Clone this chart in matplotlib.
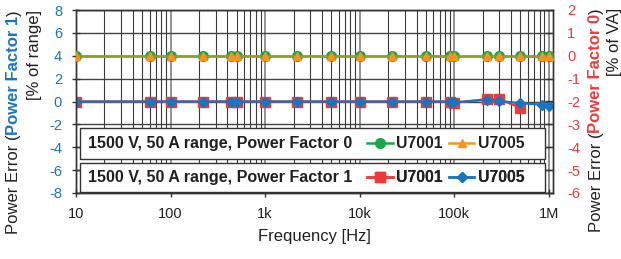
import matplotlib
matplotlib.use('Agg')
import matplotlib.pyplot as plt
from matplotlib.lines import Line2D
from matplotlib.patches import Rectangle
from matplotlib.ticker import FixedLocator, LogLocator, NullFormatter

plt.rcParams['font.family'] = ['Liberation Sans', 'DejaVu Sans']
plt.rcParams['axes.unicode_minus'] = False

# data
freq = [10, 60, 100, 220, 440, 500, 1e3, 2.2e3, 5e3, 10e3, 22e3, 50e3, 90e3,
        100e3, 220e3, 300e3, 500e3, 850e3, 1e6]
pf0_u7001 = [0.0] * 19          # right axis, % of VA
pf0_u7005 = [0.0] * 19
pf1_u7001 = [0, 0, 0, 0, 0, 0, 0, 0, 0, 0, 0, 0, 0, -0.1, 0.2, 0.2, -0.55]   # left axis
pf1_u7005 = [0, 0, 0, 0, 0, 0, 0, 0, 0, 0, 0, 0, 0, -0.08, 0.15, 0.05, -0.15, -0.28, -0.38]

x_ticks = [10, 100, 1e3, 1e4, 1e5, 1e6]
x_labels = ['10', '100', '1k', '10k', '100k', '1M']
left_ticks = [8, 6, 4, 2, 0, -2, -4, -6, -8]
right_ticks = [2, 1, 0, -1, -2, -3, -4, -5, -6]

GREEN = '#1aa64b'
ORANGE = '#f7941d'
RED = '#ee3a3a'
BLUE = '#1b75bc'
TXT = '#231f20'

fig = plt.figure(figsize=(6.21, 2.59), dpi=100)
fig.patch.set_facecolor('white')
ax = fig.add_axes([76 / 621, 66 / 259, 477 / 621, 183 / 259])
ax2 = ax.twinx()

ax.set_xscale('log')
ax.set_xlim(10, 1.11e6)
ax.set_ylim(-8, 8)
ax2.set_ylim(-6, 2)

# grid
ax.xaxis.set_major_locator(FixedLocator(x_ticks))
ax.xaxis.set_minor_locator(LogLocator(base=10, subs=range(2, 10)))
ax.xaxis.set_minor_formatter(NullFormatter())
ax.set_xticks(x_ticks)
ax.set_xticklabels(x_labels)
ax.set_yticks(left_ticks)
ax2.set_yticks(right_ticks)
ax.grid(which='major', axis='x', color='#8a8a8a', linewidth=1.3)
ax.grid(which='minor', axis='x', color='#3a3a3a', linewidth=0.8)
ax.grid(which='major', axis='y', color='#444444', linewidth=1.0)
ax.set_axisbelow(True)

# Power factor 1 on left axis
ax.plot(freq[:len(pf1_u7001)], pf1_u7001, color=RED, lw=1.6, marker='s', ms=7,
        mec=RED, mfc=RED, zorder=3)
ax.plot(freq, pf1_u7005, color=BLUE, lw=1.6, marker='D', ms=5,
        mec=BLUE, mfc=BLUE, zorder=4)

# Power factor 0 on right axis
ax2.plot(freq, pf0_u7001, color=GREEN, lw=1.8, marker='o', ms=7,
         mec=GREEN, mfc=GREEN, zorder=3)
ax2.plot(freq, pf0_u7005, color=ORANGE, lw=1.8, alpha=0.55, zorder=4)
ax2.plot(freq, pf0_u7005, ls='none', marker='^', ms=6, mec=ORANGE, mfc=ORANGE, zorder=5)

for a in (ax, ax2):
    for s in a.spines.values():
        s.set_color('#333333')
        s.set_linewidth(1.0)

ax.tick_params(axis='y', direction='inout', length=6, width=1, color='#333333',
               labelcolor=BLUE, labelsize=10.5, pad=7)
ax.tick_params(axis='x', which='major', direction='inout', length=6, width=1,
               color='#333333', labelcolor=TXT, labelsize=10.5, pad=7)
ax.tick_params(axis='x', which='minor', direction='in', length=4, width=0.8,
               color='#333333')
ax2.tick_params(axis='y', direction='in', length=6, width=1, color='#333333',
                labelcolor=RED, labelsize=10.5, pad=10)

ax.set_xlabel('Frequency [Hz]', fontsize=12, color=TXT, labelpad=6)

# legend boxes
box_specs = [
    (0.186, 0.355, '1500 V, 50 A range, Power Factor 0',
     [Line2D([], [], color=GREEN, lw=1.8, marker='o', ms=7),
      Line2D([], [], color=ORANGE, lw=1.8, marker='^', ms=6)]),
    (0.005, 0.164, '1500 V, 50 A range, Power Factor 1',
     [Line2D([], [], color=RED, lw=1.8, marker='s', ms=7),
      Line2D([], [], color=BLUE, lw=1.8, marker='D', ms=5)]),
]
for y0, y1, title, handles in box_specs:
    ax2.add_patch(Rectangle((0.008, y0), 0.975, y1 - y0, transform=ax.transAxes,
                            facecolor='white', edgecolor='#333333', lw=1.0, zorder=10))
    ax2.text(0.025, (y0 + y1) / 2, title, transform=ax.transAxes, fontsize=11.6,
             fontweight='bold', color=TXT, va='center', ha='left', zorder=11)
    leg = ax2.legend(handles, ['U7001', 'U7005'], ncol=2, loc='center left',
                     bbox_to_anchor=(0.611, (y0 + y1) / 2), frameon=False,
                     prop={'size': 11.3, 'weight': 'bold'}, handlelength=1.6,
                     handletextpad=0.25, columnspacing=0.4, borderpad=0,
                     borderaxespad=0)
    for t in leg.get_texts():
        t.set_color(TXT)
    leg.set_zorder(12)
    ax2.add_artist(leg)

# rotated multi-colour axis labels
renderer = fig.canvas.get_renderer()


def vertical_label(x_px, top_px, parts, size=12):
    y = fig.bbox.height - top_px
    for text, color, weight in reversed(parts):
        t = fig.text(x_px / fig.bbox.width, y / fig.bbox.height, text, rotation=90,
                     ha='center', va='top', fontsize=size, color=color,
                     fontweight=weight)
        y = t.get_window_extent(renderer).y0


vertical_label(14, 10, [('Power Error (', TXT, 'normal'),
                        ('Power Factor 1', BLUE, 'bold'),
                        (')', TXT, 'normal')])
vertical_label(34, 10, [('[% of range]', TXT, 'normal')])
vertical_label(596, 8, [('Power Error (', TXT, 'normal'),
                        ('Power Factor 0', RED, 'bold'),
                        (')', TXT, 'normal')])
vertical_label(615, 8, [('[% of VA]', TXT, 'normal')])

fig.savefig('out.png', dpi=100, facecolor='white')
